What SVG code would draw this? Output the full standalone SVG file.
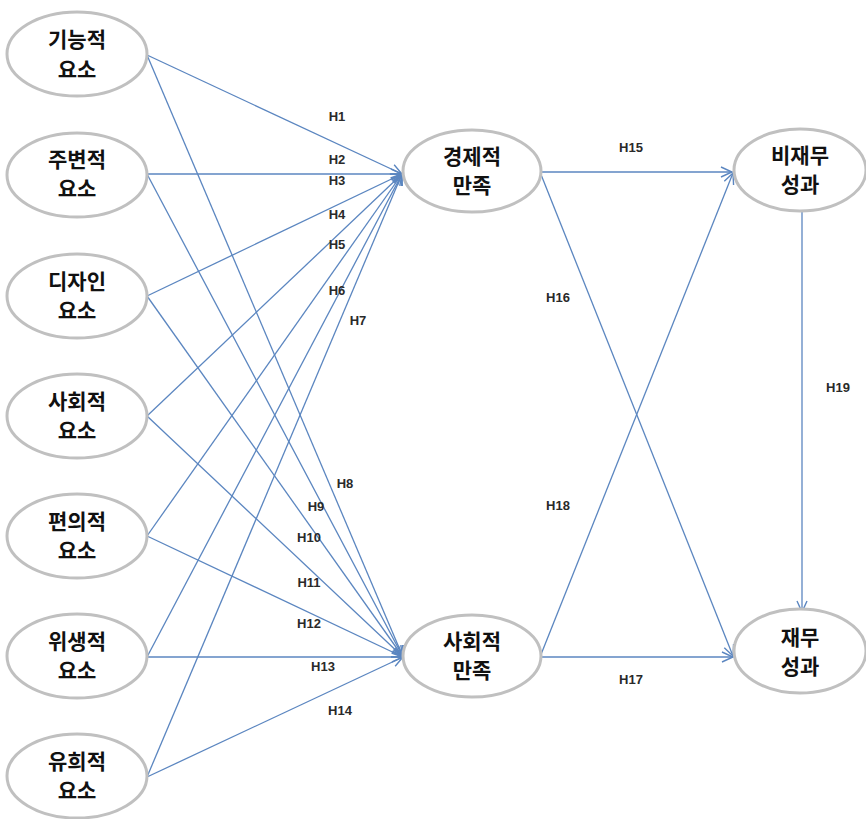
<svg xmlns="http://www.w3.org/2000/svg" width="866" height="819" viewBox="0 0 866 819">
<style>
.n ellipse{fill:#fff;stroke:#c0c0c0;stroke-width:3}
.n text{font-family:"Noto Sans CJK KR","Noto Sans",sans-serif;font-size:21px;font-weight:bold;fill:#111;text-anchor:middle}
#edges line{stroke:#5b86c0;stroke-width:1.3;marker-end:url(#ah)}
.lb{font-family:"Liberation Sans",Arial,sans-serif;font-size:13px;font-weight:bold;fill:#2a2a2a;text-anchor:middle}
</style>
<defs>
<marker id="ah" markerUnits="userSpaceOnUse" markerWidth="14" markerHeight="14" refX="12" refY="6" orient="auto">
<path d="M1,1 L12,6 L1,11" fill="none" stroke="#5b86c0" stroke-width="1.4"/>
</marker>
</defs>
<rect width="866" height="819" fill="#fff"/>
<g id="edges">
<line x1="147" y1="55" x2="402" y2="174"/>
<line x1="147" y1="55" x2="403" y2="657"/>
<line x1="147" y1="174" x2="402" y2="174"/>
<line x1="147" y1="174" x2="403" y2="657"/>
<line x1="147" y1="296" x2="402" y2="174"/>
<line x1="147" y1="296" x2="403" y2="657"/>
<line x1="147" y1="416" x2="402" y2="174"/>
<line x1="147" y1="416" x2="403" y2="657"/>
<line x1="147" y1="536" x2="402" y2="174"/>
<line x1="147" y1="536" x2="403" y2="657"/>
<line x1="147" y1="657" x2="402" y2="174"/>
<line x1="147" y1="657" x2="403" y2="657"/>
<line x1="147" y1="777" x2="402" y2="174"/>
<line x1="147" y1="777" x2="403" y2="657"/>
<line x1="540" y1="172" x2="732" y2="172"/>
<line x1="540" y1="172" x2="733" y2="656"/>
<line x1="540" y1="657" x2="733" y2="173"/>
<line x1="540" y1="657" x2="733" y2="657"/>
<line x1="802" y1="210" x2="802" y2="612"/>
</g>
<g id="labels">
<text class="lb" x="337" y="121">H1</text>
<text class="lb" x="337" y="164">H2</text>
<text class="lb" x="337" y="185">H3</text>
<text class="lb" x="337" y="219">H4</text>
<text class="lb" x="337" y="249">H5</text>
<text class="lb" x="337" y="295">H6</text>
<text class="lb" x="358" y="325">H7</text>
<text class="lb" x="345" y="488">H8</text>
<text class="lb" x="316" y="511">H9</text>
<text class="lb" x="309" y="542">H10</text>
<text class="lb" x="309" y="587">H11</text>
<text class="lb" x="309" y="628">H12</text>
<text class="lb" x="323" y="671">H13</text>
<text class="lb" x="340" y="715">H14</text>
<text class="lb" x="631" y="152">H15</text>
<text class="lb" x="558" y="302">H16</text>
<text class="lb" x="631" y="684">H17</text>
<text class="lb" x="558" y="510">H18</text>
<text class="lb" x="838" y="392">H19</text>
</g>
<g id="n1" class="n"><ellipse cx="77" cy="54" rx="70" ry="42"/><text x="77" y="47">기능적</text><text x="77" y="77">요소</text></g>
<g id="n2" class="n"><ellipse cx="77" cy="175" rx="70" ry="42"/><text x="77" y="167">주변적</text><text x="77" y="196">요소</text></g>
<g id="n3" class="n"><ellipse cx="77" cy="296" rx="70" ry="42"/><text x="77" y="289">디자인</text><text x="77" y="318">요소</text></g>
<g id="n4" class="n"><ellipse cx="77" cy="416" rx="70" ry="42"/><text x="77" y="409">사회적</text><text x="77" y="438">요소</text></g>
<g id="n5" class="n"><ellipse cx="77" cy="536" rx="70" ry="42"/><text x="77" y="529">편의적</text><text x="77" y="558">요소</text></g>
<g id="n6" class="n"><ellipse cx="77" cy="656" rx="70" ry="42"/><text x="77" y="649">위생적</text><text x="77" y="678">요소</text></g>
<g id="n7" class="n"><ellipse cx="77" cy="776" rx="70" ry="42"/><text x="77" y="769">유희적</text><text x="77" y="798">요소</text></g>
<g id="m1" class="n"><ellipse cx="472" cy="171" rx="69" ry="41"/><text x="472" y="164">경제적</text><text x="472" y="193">만족</text></g>
<g id="m2" class="n"><ellipse cx="472" cy="656" rx="69" ry="41"/><text x="472" y="649">사회적</text><text x="472" y="678">만족</text></g>
<g id="r1" class="n"><ellipse cx="800" cy="170" rx="66" ry="41"/><text x="800" y="163">비재무</text><text x="800" y="192">성과</text></g>
<g id="r2" class="n"><ellipse cx="800" cy="651" rx="66" ry="42"/><text x="800" y="645">재무</text><text x="800" y="674">성과</text></g>
</svg>
